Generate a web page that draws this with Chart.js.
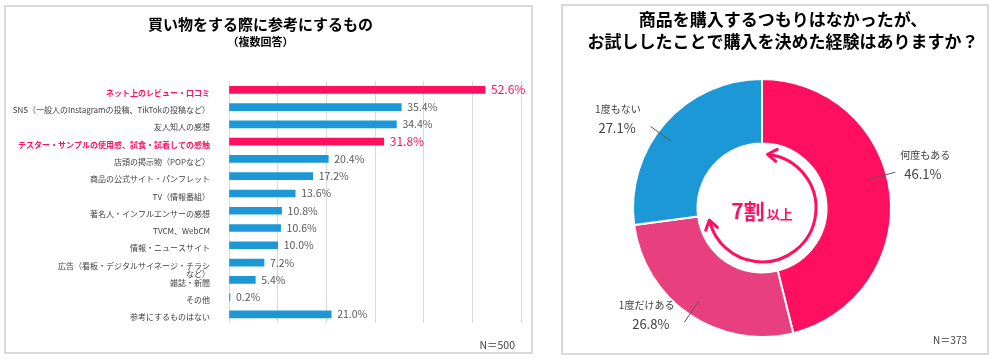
<!DOCTYPE html>
<html lang="ja">
<head>
<meta charset="utf-8">
<script src="https://cdn.jsdelivr.net/npm/chart.js@4"></script>
<style>
    body { margin: 0; background: #fff; width: 995px; height: 362px; position: relative; overflow: hidden; }
    .panel { position: absolute; box-sizing: border-box; border: 2px solid #d9d9d9; }
    #p1 { left: 4px; top: 5px; width: 529px; height: 349px; }
    #p2 { left: 561px; top: 4px; width: 428px; height: 351px; }
    .box { position: absolute; top: 0; height: 362px; }
    #b1 { left: 0; width: 540px; }
    #b2 { left: 555px; width: 440px; }
</style>
</head>
<body>
<div class="panel" id="p1"></div>
<div class="panel" id="p2"></div>
<div class="box" id="b1"><canvas id="barChart"></canvas></div>
<div class="box" id="b2"><canvas id="donutChart"></canvas></div>
<script>
// 買い物をする際に参考にするもの（複数回答）
const barLabels = [
    'ネット上のレビュー・口コミ',
    'SNS（一般人のInstagramの投稿、TikTokの投稿など）',
    '友人知人の感想',
    'テスター・サンプルの使用感、試食・試着しての感触',
    '店頭の掲示物（POPなど）',
    '商品の公式サイト・パンフレット',
    'TV（情報番組）',
    '著名人・インフルエンサーの感想',
    'TVCM、WebCM',
    '情報・ニュースサイト',
    ['', '広告（看板・デジタルサイネージ・チラシ', 'など）'],
    '雑誌・新聞',
    'その他',
    '参考にするものはない'
];
const barValues = [52.6, 35.4, 34.4, 31.8, 20.4, 17.2, 13.6, 10.8, 10.6, 10.0, 7.2, 5.4, 0.2, 21.0];
const highlightIdx = [0, 3];
const xTicks = [0, 10, 20, 30, 40, 50, 60];

// お試し購入の経験
const donutTitle = ['商品を購入するつもりはなかったが、', 'お試ししたことで購入を決めた経験はありますか？'];
const donutLabels = ['何度もある', '1度だけある', '1度もない'];
const donutValues = [46.1, 26.8, 27.1];

const PINK = '#FF0F5F';
const BLUE = '#1B98D5';
const TEXT = '#404040';

Chart.defaults.font.family = "'Noto Sans CJK JP', 'Noto Sans', sans-serif";
Chart.defaults.color = TEXT;

const barValueLabels = {
    id: 'barValueLabels',
    afterDatasetsDraw(chart) {
        const c = chart.ctx;
        const meta = chart.getDatasetMeta(0);
        c.save();
        c.textBaseline = 'middle';
        c.textAlign = 'left';
        meta.data.forEach((bar, i) => {
            const hi = highlightIdx.includes(i);
            c.fillStyle = hi ? PINK : '#595959';
            c.font = (hi ? '12px ' : '10.5px ') + Chart.defaults.font.family;
            c.fillText(barValues[i].toFixed(1) + '%', bar.x + 6, bar.y);
        });
        c.fillStyle = TEXT;
        c.font = '10.5px ' + Chart.defaults.font.family;
        c.textAlign = 'right';
        c.fillText('N＝500', chart.width - 25, 345);
        c.restore();
    }
};

const bar = document.getElementById('barChart').getContext('2d');
const barChart = new Chart(bar, {
    type: 'bar',
    data: {
        labels: barLabels,
        datasets: [{
            data: barValues,
            barThickness: 7,
            backgroundColor: barValues.map((v, i) => highlightIdx.includes(i) ? PINK : BLUE),
        }]
    },
    options: {
        indexAxis: 'y',
        responsive: true,
        maintainAspectRatio: false,
        animation: false,
        layout: {
            padding: { top: 0, right: 19, bottom: 39, left: 0 }
        },
        plugins: {
            legend: { display: false },
            tooltip: { enabled: false },
            title: {
                display: true,
                text: '買い物をする際に参考にするもの',
                color: '#000',
                font: { size: 15, weight: 'bold' },
                padding: { top: 15, bottom: 2 },
            },
            subtitle: {
                display: true,
                text: '（複数回答）',
                color: '#000',
                font: { size: 11, weight: 'bold' },
                padding: { top: 0, bottom: 33 },
            },
        },
        scales: {
            x: {
                min: xTicks[0],
                max: xTicks[xTicks.length - 1],
                afterBuildTicks: scale => { scale.ticks = xTicks.map(v => ({ value: v })); },
                ticks: { display: false },
                grid: { color: '#d9d9d9', drawTicks: false },
                border: { display: false },
                afterFit: scale => { scale.height = 0; },
            },
            y: {
                grid: { display: false },
                border: { display: false },
                afterFit: scale => { scale.width = 229; },
                ticks: {
                    padding: 11,
                    labelOffset: 3,
                    autoSkip: false,
                    color: ctx => highlightIdx.includes(ctx.index) ? PINK : TEXT,
                    font: ctx => ({ size: 8, weight: highlightIdx.includes(ctx.index) ? 'bold' : 'normal', lineHeight: 1 }),
                },
            },
        },
    },
    plugins: [barValueLabels],
});

const donutDecor = {
    id: 'donutDecor',
    afterDatasetsDraw(chart) {
        const c = chart.ctx;
        const arcs = chart.getDatasetMeta(0).data;
        const cx = arcs[0].x, cy = arcs[0].y;
        const outer = arcs[0].outerRadius;
        const fam = Chart.defaults.font.family;
        const leaderShift = [-8, 0, -5];
        c.save();

        // title, centred a little right of the ring like the original
        c.fillStyle = '#000';
        c.textAlign = 'center';
        c.textBaseline = 'middle';
        c.font = 'bold 17px ' + fam;
        donutTitle.forEach((line, i) => c.fillText(line, chart.width / 2 + 8, 20 + i * 22));

        // leader lines and labels
        arcs.forEach((arc, i) => {
            const mid = (arc.startAngle + arc.endAngle) / 2 + leaderShift[i] * Math.PI / 180;
            const x1 = cx + Math.cos(mid) * outer * 0.87, y1 = cy + Math.sin(mid) * outer * 0.87;
            const x2 = cx + Math.cos(mid) * outer * 1.07, y2 = cy + Math.sin(mid) * outer * 1.07;
            c.strokeStyle = '#595959';
            c.lineWidth = 1;
            c.beginPath();
            c.moveTo(x1, y1);
            c.lineTo(x2, y2);
            c.stroke();
            const right = Math.cos(mid) > 0;
            c.textAlign = right ? 'left' : 'right';
            c.fillStyle = TEXT;
            c.font = '10px ' + fam;
            c.fillText(donutLabels[i], right ? x2 + 5 : x2 - 10, y2 - 17);
            c.font = '13px ' + fam;
            c.fillText(donutValues[i].toFixed(1) + '%', right ? x2 + 9 : x2 - 15, y2 + 2);
        });

        // circular arrow in the hole
        const r = 54;
        const a0 = -83 * Math.PI / 180, a1 = 166 * Math.PI / 180;
        c.strokeStyle = PINK;
        c.lineWidth = 3;
        c.lineCap = 'round';
        c.lineJoin = 'round';
        c.beginPath();
        c.arc(cx, cy, r, a0, a1);
        c.stroke();
        const head = (a, dir) => {
            const px = cx + Math.cos(a) * r, py = cy + Math.sin(a) * r;
            const dx = -Math.sin(a) * dir, dy = Math.cos(a) * dir;
            const nx = -dy, ny = dx;
            c.beginPath();
            c.moveTo(px - dx * 8 + nx * 6, py - dy * 8 + ny * 6);
            c.lineTo(px + dx * 1, py + dy * 1);
            c.lineTo(px - dx * 8 - nx * 6, py - dy * 8 - ny * 6);
            c.stroke();
        };
        head(a0, -1);
        head(a1, 1);

        c.fillStyle = PINK;
        c.textAlign = 'left';
        c.font = 'bold 21px ' + fam;
        const w1 = c.measureText('7割').width;
        c.font = 'bold 13px ' + fam;
        const w2 = c.measureText('以上').width;
        const sx = cx - (w1 + w2 + 2) / 2;
        c.font = 'bold 21px ' + fam;
        c.fillText('7割', sx, cy + 3);
        c.font = 'bold 13px ' + fam;
        c.fillText('以上', sx + w1 + 2, cy + 6);

        c.fillStyle = TEXT;
        c.textAlign = 'right';
        c.font = '10px ' + fam;
        c.fillText('N＝373', chart.width - 28, 340);
        c.restore();
    }
};

const donut = document.getElementById('donutChart').getContext('2d');
const donutChart = new Chart(donut, {
    type: 'doughnut',
    data: {
        labels: donutLabels,
        datasets: [{
            data: donutValues,
            backgroundColor: [PINK, '#E8407F', BLUE],
            borderColor: '#fff',
            borderWidth: 2,
        }]
    },
    options: {
        responsive: true,
        maintainAspectRatio: false,
        animation: false,
        cutout: '50%',
        layout: {
            padding: { top: 78, right: 26, bottom: 24, left: 0 }
        },
        plugins: {
            legend: { display: false },
            tooltip: { enabled: false },
        },
    },
    plugins: [donutDecor],
});
</script>
</body>
</html>
